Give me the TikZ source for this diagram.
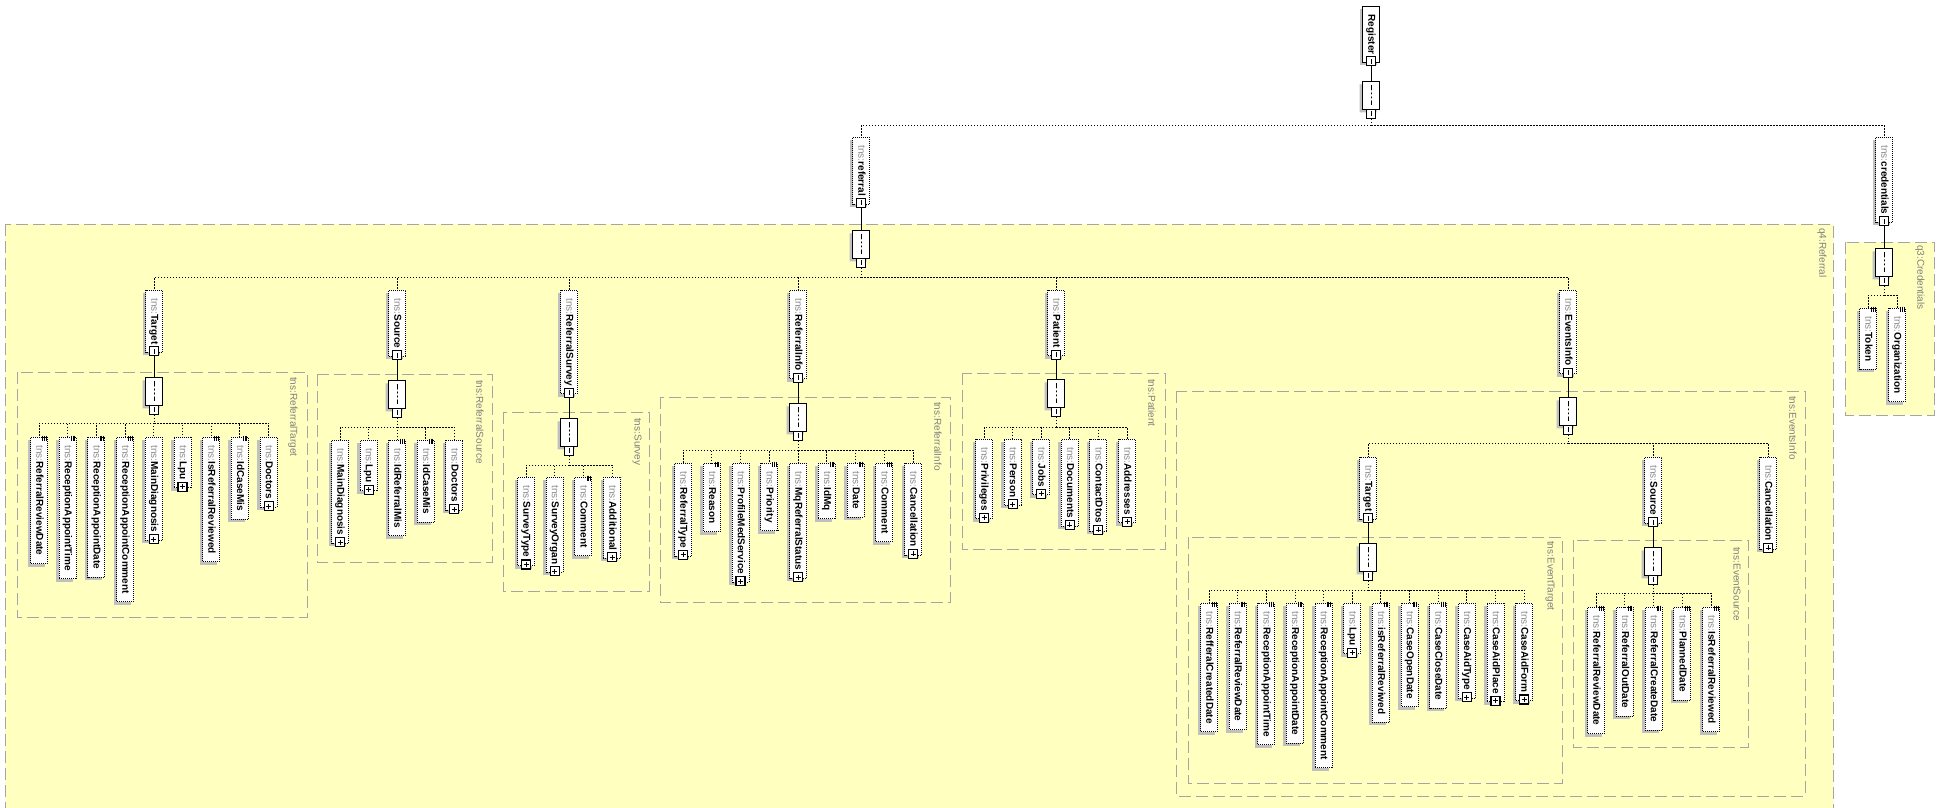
\documentclass[tikz,border=0pt]{standalone}
\usepackage{fontspec}
\setmainfont{Liberation Sans}
\usetikzlibrary{shapes.misc}

\definecolor{typeyellow}{RGB}{255,255,192}
\definecolor{framegray}{RGB}{165,165,165}
\definecolor{labelgray}{RGB}{128,128,128}
\definecolor{shadowgray}{RGB}{192,192,192}
\definecolor{prefixgray}{RGB}{140,140,140}

\newcommand{\tns}[1]{{\color{prefixgray}tns:}\textbf{#1}}

% plus box for expandable elements, little bars for simple content
\newcommand{\elemtag}[2]{%
  \ifnum#2=1
    \node[plusbox] at ([yshift=1.5pt]#1.east) {};
  \else
    \foreach \dx in {-5.5,-3.8,-2.1}
      \draw[line width=0.7pt] ([xshift=\dx pt,yshift=1.5pt]#1.north west) -- ++(0,5);
  \fi}

\tikzset{
  elem/.style={draw, line width=0.9pt, dash pattern=on 1pt off 1pt, fill=white,
    rotate=-90, anchor=west, minimum height=17pt, inner xsep=8pt, inner ysep=0pt,
    text height=7.5pt, text depth=2pt, font=\fontsize{10}{12}\selectfont,
    preaction={fill=shadowgray, draw=none, transform canvas={xshift=-3pt,yshift=-3pt}}},
  rootelem/.style={elem, solid},
  pmbox/.style={draw, solid, line width=1.1pt, fill=white, minimum size=9pt, inner sep=0pt},
  plusbox/.style={pmbox, path picture={
    \draw[line width=0.9pt] ([yshift=-2pt]path picture bounding box.north) -- ([yshift=2pt]path picture bounding box.south)
      ([xshift=2pt]path picture bounding box.west) -- ([xshift=-2pt]path picture bounding box.east);}},
  minusbox/.style={pmbox, path picture={
    \draw[line width=0.9pt] ([yshift=-2pt]path picture bounding box.north) -- ([yshift=2pt]path picture bounding box.south);}},
  seqbox/.style={chamfered rectangle, chamfered rectangle sep=4pt, draw, line width=0.8pt, fill=white,
    minimum width=17pt, minimum height=28pt, inner sep=0pt, anchor=north,
    preaction={fill=shadowgray, draw=none, transform canvas={xshift=-3pt,yshift=-3pt}},
    path picture={
      \draw[line width=0.8pt] ([yshift=-4pt]path picture bounding box.north) -- ([yshift=4pt]path picture bounding box.south);
      \foreach \d in {-4,0,4} \fill ([yshift=\d pt]path picture bounding box.center) circle (1.4pt);}},
  seqline/.style={line width=0.9pt},
  bus/.style={line width=0.9pt, dash pattern=on 1.5pt off 1.5pt},
  typeframe/.style={draw=framegray, fill=typeyellow, line width=0.9pt, dash pattern=on 12pt off 5pt},
  typelabel/.style={rotate=-90, anchor=west, inner sep=0pt, text=labelgray, font=\fontsize{10}{12}\selectfont},
}

\begin{document}
\begin{tikzpicture}[x=1pt, y=-1pt]
\useasboundingbox (0,0) rectangle (1950,807);
\fill[white] (0,0) rectangle (1950,807);

% type frames
\draw[typeframe] (5,224) rectangle (1833,830);
\draw[typeframe] (1845,242) rectangle (1934,415);
\draw[typeframe] (17,372) rectangle (307,617);
\draw[typeframe] (317,374) rectangle (492,562);
\draw[typeframe] (503,412) rectangle (649,591);
\draw[typeframe] (660,397) rectangle (950,602);
\draw[typeframe] (962,373) rectangle (1165,549);
\draw[typeframe] (1176,391) rectangle (1805,796);
\draw[typeframe] (1188,537) rectangle (1562,783);
\draw[typeframe] (1573,540) rectangle (1748,747);

\node[typelabel] (lbreferral) at (1822,228) {q4:Referral};
\node[typelabel] (lbcredentials) at (1920,245) {q3:Credentials};
\node[typelabel] (lbtarget) at (293,377) {tns:ReferralTarget};
\node[typelabel] (lbsource) at (480,380) {tns:ReferralSource};
\node[typelabel] (lbsurvey) at (637,418) {tns:Survey};
\node[typelabel] (lbinfo) at (938,402) {tns:ReferralInfo};
\node[typelabel] (lbpatient) at (1152,379) {tns:Patient};
\node[typelabel] (lbevents) at (1793,396) {tns:EventsInfo};
\node[typelabel] (lbevtarget) at (1550,541) {tns:EventTarget};
\node[typelabel] (lbevsource) at (1737,547) {tns:EventSource};

% root
\node[rootelem] (register) at (1371,6) {\textbf{Register}\hspace{5.5pt}};
\node[minusbox] (mregister) at ([yshift=1.5pt]register.east) {};
\node[seqbox] (seqregister) at (1371,81) {};
\node[minusbox] (seqmregister) at ([yshift=-4pt]seqregister.south) {};
\coordinate (busregister) at (1371,125);
\draw[seqline] (mregister) -- (seqregister);
\draw[bus] (seqmregister) -- (busregister);

\node[elem] (referral) at (861,137) {\tns{referral}\hspace{5.5pt}};
\node[minusbox] (mreferral) at ([yshift=1.5pt]referral.east) {};
\node[seqbox] (seqreferral) at (861,230) {};
\node[minusbox] (seqmreferral) at ([yshift=-4pt]seqreferral.south) {};
\coordinate (busreferral) at (861,277);
\draw[seqline] (mreferral) -- (seqreferral);
\draw[bus] (seqmreferral) -- (busreferral);

\node[elem] (credentials) at (1884,137) {\tns{credentials}\hspace{5.5pt}};
\node[minusbox] (mcredentials) at ([yshift=1.5pt]credentials.east) {};
\node[seqbox] (seqcredentials) at (1884,248) {};
\node[minusbox] (seqmcredentials) at ([yshift=-4pt]seqcredentials.south) {};
\coordinate (buscredentials) at (1884,295);
\draw[seqline] (mcredentials) -- (seqcredentials);
\draw[bus] (seqmcredentials) -- (buscredentials);

\draw[bus] (busregister) -| (referral.west);
\draw[bus] (busregister) -| (credentials.west);

% referral parts
\foreach \n/\x/\c/\b in {Target/154/377/423, Source/397/380/427, ReferralSurvey/569/418/465,
    ReferralInfo/798/403/450, Patient/1056/379/427, EventsInfo/1568/397/443}{
  \node[elem] (\n) at (\x,290) {\tns{\n}\hspace{5.5pt}};
  \node[minusbox] (m\n) at ([yshift=1.5pt]\n.east) {};
  \node[seqbox] (seq\n) at (\x,\c) {};
  \node[minusbox] (seqm\n) at ([yshift=-4pt]seq\n.south) {};
  \coordinate (bus\n) at (\x,\b);
  \draw[seqline] (m\n) -- (seq\n);
  \draw[bus] (seqm\n) -- (bus\n);
  \draw[bus] (busreferral) -| (\n.west);
}

% tns:ReferralTarget
\foreach \n/\k [count=\i from 0] in {ReferralReviewDate/0, ReceptionAppointTime/0, ReceptionAppointDate/0,
    ReceptionAppointComment/0, MainDiagnosis/1, Lpu/1, IsReferralReviewed/0, IdCaseMis/0, Doctors/1}{
  \node[elem] (rt\i) at (39+28.7*\i,437) {\tns{\n}\ifnum\k=1 \hspace{5.5pt}\fi};
  \elemtag{rt\i}{\k}
  \draw[bus] (busTarget) -| (rt\i.west);
}

% tns:ReferralSource
\foreach \n/\k [count=\i from 0] in {MainDiagnosis/1, Lpu/1, IdReferralMis/0, IdCaseMis/0, Doctors/1}{
  \node[elem] (rs\i) at (340+28.6*\i,440) {\tns{\n}\ifnum\k=1 \hspace{5.5pt}\fi};
  \elemtag{rs\i}{\k}
  \draw[bus] (busSource) -| (rs\i.west);
}

% tns:Survey
\foreach \n/\k [count=\i from 0] in {SurveyType/1, SurveyOrgan/1, Comment/0, Additional/1}{
  \node[elem] (sv\i) at (526+28.7*\i,477) {\tns{\n}\ifnum\k=1 \hspace{5.5pt}\fi};
  \elemtag{sv\i}{\k}
  \draw[bus] (busReferralSurvey) -| (sv\i.west);
}

% tns:ReferralInfo
\foreach \n/\k [count=\i from 0] in {ReferralType/1, Reason/0, ProfileMedService/1, Priority/0,
    MqReferralStatus/1, IdMq/0, Date/0, Comment/0, Cancellation/1}{
  \node[elem] (ri\i) at (683+28.75*\i,463) {\tns{\n}\ifnum\k=1 \hspace{5.5pt}\fi};
  \elemtag{ri\i}{\k}
  \draw[bus] (busReferralInfo) -| (ri\i.west);
}

% tns:Patient
\foreach \n/\k [count=\i from 0] in {Privileges/1, Person/1, Jobs/1, Documents/1, ContactDtos/1, Addresses/1}{
  \node[elem] (pt\i) at (984+28.6*\i,439) {\tns{\n}\ifnum\k=1 \hspace{5.5pt}\fi};
  \elemtag{pt\i}{\k}
  \draw[bus] (busPatient) -| (pt\i.west);
}

% tns:EventsInfo
\foreach \n/\x/\c/\b in {Target/1368/543/590, Source/1653/547/593}{
  \node[elem] (ev\n) at (\x,457) {\tns{\n}\hspace{5.5pt}};
  \node[minusbox] (mev\n) at ([yshift=1.5pt]ev\n.east) {};
  \node[seqbox] (seqev\n) at (\x,\c) {};
  \node[minusbox] (seqmev\n) at ([yshift=-4pt]seqev\n.south) {};
  \coordinate (busev\n) at (\x,\b);
  \draw[seqline] (mev\n) -- (seqev\n);
  \draw[bus] (seqmev\n) -- (busev\n);
  \draw[bus] (busEventsInfo) -| (ev\n.west);
}
\node[elem] (evCancellation) at (1768,457) {\tns{Cancellation}\hspace{5.5pt}};
\elemtag{evCancellation}{1}
\draw[bus] (busEventsInfo) -| (evCancellation.west);

% tns:EventTarget
\foreach \n/\k [count=\i from 0] in {RefferalCreatedDate/0, ReferralReviewDate/0, ReceptionAppointTime/0,
    ReceptionAppointDate/0, ReceptionAppointComment/0, Lpu/1, isReferralReviwed/0, CaseOpenDate/0,
    CaseCloseDate/0, CaseAidType/1, CaseAidPlace/1, CaseAidForm/1}{
  \node[elem] (et\i) at (1209+28.65*\i,603) {\tns{\n}\ifnum\k=1 \hspace{5.5pt}\fi};
  \elemtag{et\i}{\k}
  \draw[bus] (busevTarget) -| (et\i.west);
}

% tns:EventSource
\foreach \n/\k [count=\i from 0] in {ReferralReviewDate/0, ReferralOutDate/0, ReferralCreateDate/0,
    PlannedDate/0, IsReferralReviewed/0}{
  \node[elem] (es\i) at (1596+28.75*\i,607) {\tns{\n}\ifnum\k=1 \hspace{5.5pt}\fi};
  \elemtag{es\i}{\k}
  \draw[bus] (busevSource) -| (es\i.west);
}

% q3:Credentials
\foreach \n/\k [count=\i from 0] in {Token/0, Organization/0}{
  \node[elem] (cr\i) at (1868+29*\i,308) {\tns{\n}\ifnum\k=1 \hspace{5.5pt}\fi};
  \elemtag{cr\i}{\k}
  \draw[bus] (buscredentials) -| (cr\i.west);
}
\end{tikzpicture}
\end{document}
